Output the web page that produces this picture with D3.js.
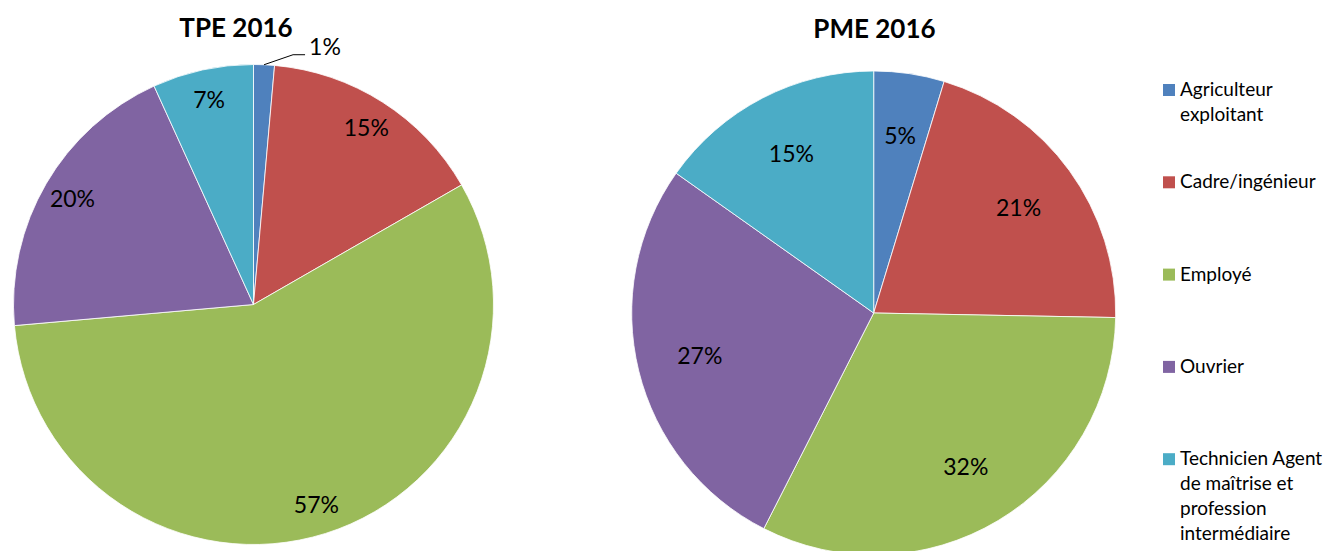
<!DOCTYPE html>
<html>
<head>
<meta charset="utf-8">
<script src="https://cdn.jsdelivr.net/npm/d3@7"></script>
<style>
  body { margin: 0; background: #fff; }
  svg { display: block; font-family: Lato, "Open Sans", sans-serif; }
</style>
</head>
<body>
<div id="chart"></div>
<script>
// Données
const categories = ['Agriculteur exploitant', 'Cadre/ingénieur', 'Employé', 'Ouvrier',
    'Technicien Agent de maîtrise et profession intermédiaire'];
const legendLines = [
    ['Agriculteur', 'exploitant'],
    ['Cadre/ingénieur'],
    ['Employé'],
    ['Ouvrier'],
    ['Technicien Agent', 'de maîtrise et', 'profession', 'intermédiaire']
];
const tpe2016 = [1.4, 15.3, 56.9, 19.6, 6.8];
const pme2016 = [4.7, 20.6, 32.2, 27.3, 15.2];
const couleurs = ['#4F81BD', '#C0504D', '#9BBB59', '#8064A2', '#4BACC6'];

const width = 1334;
const height = 551;

const svg = d3.select('#chart')
    .append('svg')
    .attr('width', width)
    .attr('height', height);

const colorScale = d3.scaleOrdinal()
    .domain(categories)
    .range(couleurs);

/**
 * Dessine un camembert façon Excel (départ en haut, sens horaire)
 */
function drawPie({ values, title, cx, cy, r, titleX, titleY, labelRatio }) {
    const pie = d3.pie()
        .value(d => d.value)
        .sort(null);

    const arcs = pie(values.map((v, i) => ({ cat: categories[i], value: v })));
    const total = d3.sum(values);

    const arc = d3.arc().innerRadius(0).outerRadius(r);
    const labelArc = d3.arc().innerRadius(r * labelRatio).outerRadius(r * labelRatio);
    const edgeArc = d3.arc().innerRadius(r).outerRadius(r);

    const g = svg.append('g')
        .attr('transform', `translate(${cx},${cy})`);

    g.selectAll('path')
        .data(arcs)
        .enter()
        .append('path')
        .attr('d', arc)
        .attr('fill', d => colorScale(d.data.cat))
        .attr('stroke', '#fff')
        .attr('stroke-width', 0.8);

    const fmt = d => Math.round(d.data.value / total * 100) + '%';

    // étiquettes internes
    g.selectAll('text.lbl')
        .data(arcs.filter(d => d.data.value / total >= 0.03))
        .enter()
        .append('text')
        .attr('class', 'lbl')
        .attr('transform', d => `translate(${labelArc.centroid(d)})`)
        .attr('text-anchor', 'middle')
        .attr('dy', '0.36em')
        .style('font-size', '23px')
        .text(fmt);

    // petites parts : étiquette externe avec trait de rappel
    arcs.filter(d => d.data.value / total < 0.03).forEach(d => {
        const [x0, y0] = edgeArc.centroid(d);
        const x1 = x0 + 29, y1 = y0 - 10;
        const x2 = x1 + 12;
        g.append('polyline')
            .attr('points', `${x0},${y0} ${x1},${y1} ${x2},${y1}`)
            .attr('fill', 'none')
            .attr('stroke', '#000')
            .attr('stroke-width', 1);
        g.append('text')
            .attr('x', x2 + 4)
            .attr('y', y1)
            .style('font-size', '23px')
            .text(fmt(d));
    });

    svg.append('text')
        .attr('x', titleX)
        .attr('y', titleY)
        .attr('text-anchor', 'middle')
        .style('font-size', '26px')
        .style('font-weight', 'bold')
        .text(title);
}

drawPie({ values: tpe2016, title: 'TPE 2016', cx: 253.5, cy: 304.5, r: 240, titleX: 236, titleY: 37, labelRatio: 0.873 });
drawPie({ values: pme2016, title: 'PME 2016', cx: 873.7, cy: 313, r: 242, titleX: 874.5, titleY: 37.5, labelRatio: 0.74 });

// Légende
const legend = svg.append('g')
    .attr('class', 'legend')
    .selectAll('g')
    .data(categories)
    .enter()
    .append('g')
    .attr('transform', (d, i) => `translate(1163,${96 + i * 92.3})`);

legend.append('rect')
    .attr('y', -12)
    .attr('width', 12)
    .attr('height', 12)
    .attr('fill', d => colorScale(d));

legend.append('text')
    .attr('x', 17)
    .style('font-size', '19px')
    .selectAll('tspan')
    .data((d, i) => legendLines[i])
    .enter()
    .append('tspan')
    .attr('x', 17)
    .attr('dy', (d, i) => i === 0 ? 0 : 24.8)
    .text(d => d);
</script>
</body>
</html>
